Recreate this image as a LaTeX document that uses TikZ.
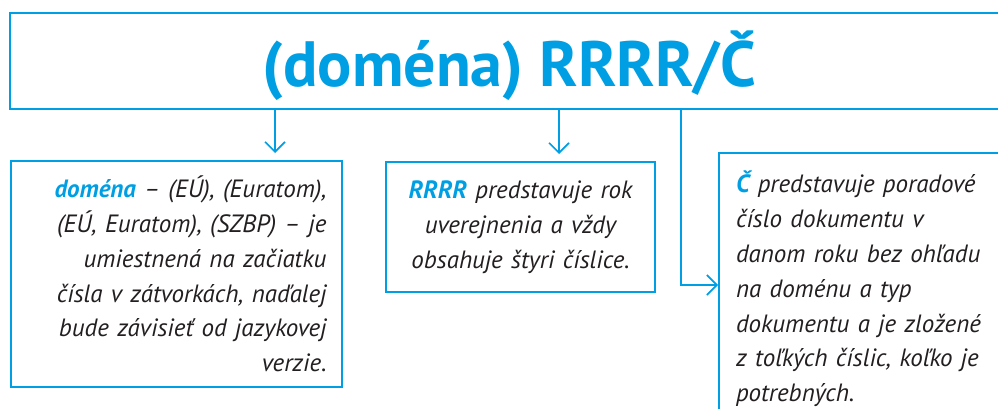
\documentclass[tikz,border=0pt]{standalone}
\usepackage{fontspec}
\setmainfont{PT Sans}
\usetikzlibrary{arrows.meta}
\definecolor{eucyan}{RGB}{0,159,227}
\definecolor{textgray}{RGB}{35,31,32}
\tikzset{
x=1pt, y=-1pt,
>={Straight Barb[length=10pt,width=20pt]},
box/.style={draw=eucyan, line width=2pt, inner sep=0pt, text=textgray,
  font=\itshape\fontsize{25}{34.8}\selectfont},
headbox/.style={draw=eucyan, line width=2pt, inner sep=0pt, text=eucyan,
  font=\bfseries\fontsize{64}{70}\selectfont, text height=56, text depth=4},
link/.style={->, draw=eucyan, line width=1.6pt},
}
\newcommand{\kw}[1]{\textcolor{eucyan}{\bfseries #1}}

\begin{document}
\begin{tikzpicture}
    \clip (0,0) rectangle (998,409);
    \node[headbox, anchor=north west, minimum width=998, minimum height=96] (title) at (9,12) {(doména) RRRR/Č};
    \node[box, anchor=north west, minimum width=331, minimum height=226, text width=300, align=right] (lbox) at (10,160)
        {\kw{doména} – (EÚ), (Euratom),\\ (EÚ, Euratom), (SZBP) – je\\ umiestnená na začiatku\\ čísla v zátvorkách, naďalej\\ bude závisieť od jazykovej\\ verzie.};
    \node[box, anchor=north west, minimum width=269, minimum height=130, text width=240, align=center] (mbox) at (385,161)
        {\kw{RRRR} predstavuje rok\\ uverejnenia a vždy\\ obsahuje štyri číslice.};
    \node[box, anchor=north west, minimum width=300, minimum height=272, text width=266, align=left] (rbox) at (718,152)
        {\kw{Č} predstavuje poradové\\ číslo dokumentu v\\ danom roku bez ohľadu\\ na doménu a typ\\ dokumentu a je zložené\\ z toľkých číslic, koľko je\\ potrebných.};
    % odbocky z hlavicky
    \coordinate (c1) at ([xshift=266]title.south west);
    \coordinate (c2) at ([xshift=550]title.south west);
    \coordinate (c3) at ([xshift=672]title.south west);
    \draw[link, shorten >=7] (c1) -- (c1 |- lbox.north);
    \draw[link, shorten >=7] (c2) -- (c2 |- mbox.north);
    \draw[link] (c3) |- ([yshift=4]rbox.west);
\end{tikzpicture}
\end{document}
